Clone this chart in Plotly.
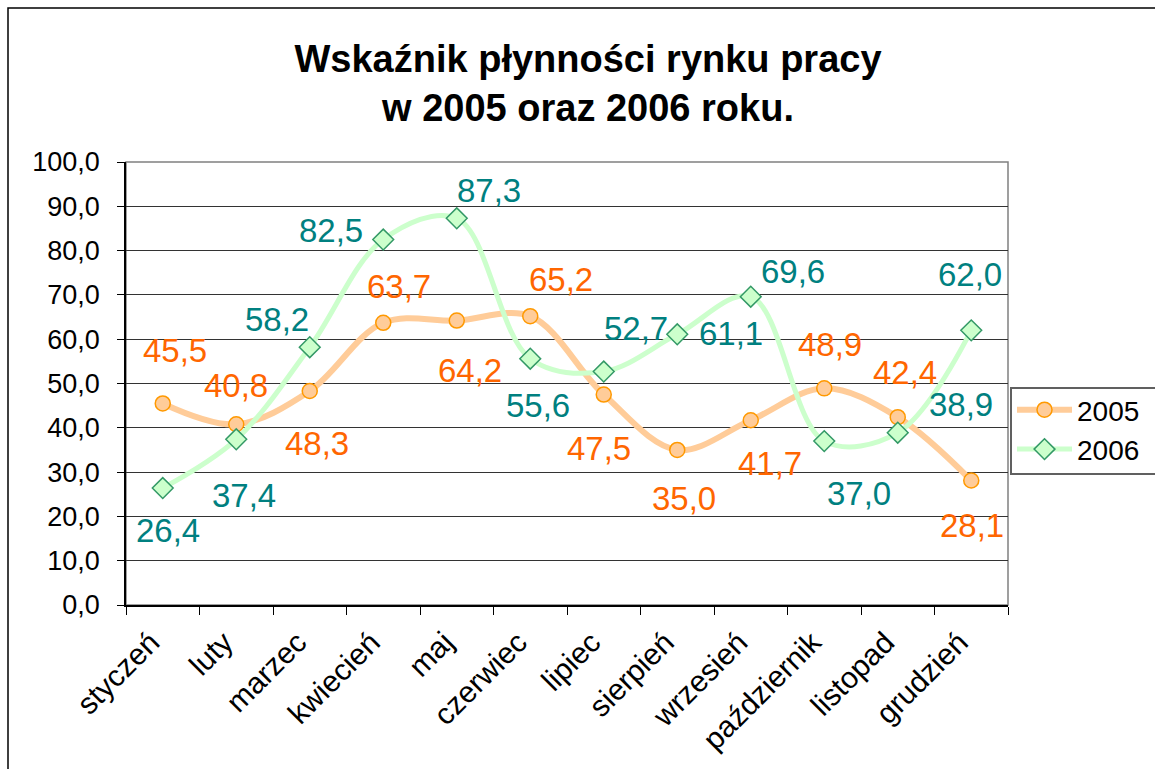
import plotly.graph_objects as go

categories = ["styczeń", "luty", "marzec", "kwiecień", "maj", "czerwiec", "lipiec",
              "sierpień", "wrzesień", "październik", "listopad", "grudzień"]
values_2005 = [45.5, 40.8, 48.3, 63.7, 64.2, 65.2, 47.5, 35.0, 41.7, 48.9, 42.4, 28.1]
values_2006 = [26.4, 37.4, 58.2, 82.5, 87.3, 55.6, 52.7, 61.1, 69.6, 37.0, 38.9, 62.0]
series_names = ["2005", "2006"]
y_ticks = [0, 10, 20, 30, 40, 50, 60, 70, 80, 90, 100]

# label offsets in px (dx right, dy down) relative to the point
offsets_2005 = [(12, -53), (0, -39), (7, 52), (16, -36), (13, 50), (31, -37),
                (-5, 54), (7, 49), (19, 43), (6, -44), (7, -45), (1, 45)]
offsets_2006 = [(5, 42), (8, 56), (-33, -28), (-52, -9), (32, -28), (8, 47),
                (32, -43), (54, -1), (42, -25), (35, 52), (63, -28), (-1, -56)]

FONT = "Liberation Sans, Arial, sans-serif"
W, H = 1155, 769
L, T, B = 126, 162, 164
R = W - 1008
pw, ph = W - L - R, H - T - B


def fmt(v):
    return f"{v:.1f}".replace(".", ",")


fig = go.Figure()
fig.add_trace(go.Scatter(
    x=categories, y=values_2005, name=series_names[0], mode="lines+markers",
    line=dict(color="#FFCC99", width=6, shape="spline", smoothing=1.0),
    marker=dict(symbol="circle", size=15, color="#FFCC99",
                line=dict(color="#FF9900", width=1.5)),
))
fig.add_trace(go.Scatter(
    x=categories, y=values_2006, name=series_names[1], mode="lines+markers",
    line=dict(color="#CCFFCC", width=5, shape="spline", smoothing=1.0),
    marker=dict(symbol="diamond", size=16, color="#CCFFCC",
                line=dict(color="#339966", width=1.5)),
))

annotations = []
for series, offs, col in ((values_2005, offsets_2005, "#FF6600"),
                          (values_2006, offsets_2006, "#008080")):
    for c, v, (dx, dy) in zip(categories, series, offs):
        annotations.append(dict(
            x=c, y=v, xref="x", yref="y", text=fmt(v), showarrow=False,
            xshift=dx, yshift=-dy, xanchor="center", yanchor="middle",
            font=dict(family=FONT, size=33, color=col),
        ))

shapes = [
    # plot area border (gray)
    dict(type="rect", xref="paper", yref="paper", x0=0, x1=1, y0=0, y1=1,
         line=dict(color="#808080", width=1.5), layer="below"),
    # outer chart border (runs off the right and bottom edges)
    dict(type="rect", xref="paper", yref="paper",
         x0=(8 - L) / pw, x1=(W + 20 - L) / pw,
         y0=-(H + 20 - T - ph) / ph, y1=(H - B - 8) / ph,
         line=dict(color="#000000", width=1.5), layer="above"),
    # legend frame (runs off the right edge)
    dict(type="rect", xref="paper", yref="paper",
         x0=(1011 - L) / pw, x1=(W + 20 - L) / pw,
         y0=(H - B - 474) / ph, y1=(H - B - 388) / ph,
         line=dict(color="#606060", width=2), layer="above"),
]

fig.update_layout(
    width=W, height=H,
    margin=dict(l=L, r=R, t=T, b=B, autoexpand=False),
    paper_bgcolor="white", plot_bgcolor="white",
    separators=", ",
    font=dict(family=FONT, size=27, color="black"),
    title=dict(
        text="<b>Wskaźnik płynności rynku pracy<br>w 2005 oraz 2006 roku.</b>",
        x=588 / W, xanchor="center",
        y=1 - 72 / H, yanchor="middle", yref="container",
        font=dict(family=FONT, size=38, color="black"),
    ),
    xaxis=dict(
        type="category", range=[-0.5, 11.5], tickangle=-45,
        tickson="boundaries", ticks="outside", ticklen=8, tickcolor="#000",
        showline=True, linecolor="#000", linewidth=1.5, showgrid=False,
        ticklabelstandoff=6, ticklabelshift=-12,
        tickfont=dict(family=FONT, size=30, color="black"),
    ),
    yaxis=dict(
        range=[0, 100], tickvals=y_ticks, tickformat=".1f",
        ticks="outside", ticklen=7, tickcolor="#000",
        showline=True, linecolor="#000", linewidth=1.5,
        showgrid=True, gridcolor="#333333", gridwidth=1,
        zeroline=False, ticklabelstandoff=12,
        tickfont=dict(family=FONT, size=27, color="black"),
    ),
    legend=dict(
        x=(1012 - L) / pw, xanchor="left", y=(H - B - 385) / ph, yanchor="top",
        borderwidth=0, bgcolor="rgba(255,255,255,0)",
        font=dict(family=FONT, size=28, color="black"),
        itemwidth=55, tracegroupgap=0,
    ),
    annotations=annotations,
    shapes=shapes,
)

fig.write_html(
    "out.html",
    config={"displayModeBar": False},
    post_script="document.body.style.margin='0';document.body.style.overflow='hidden';",
)
